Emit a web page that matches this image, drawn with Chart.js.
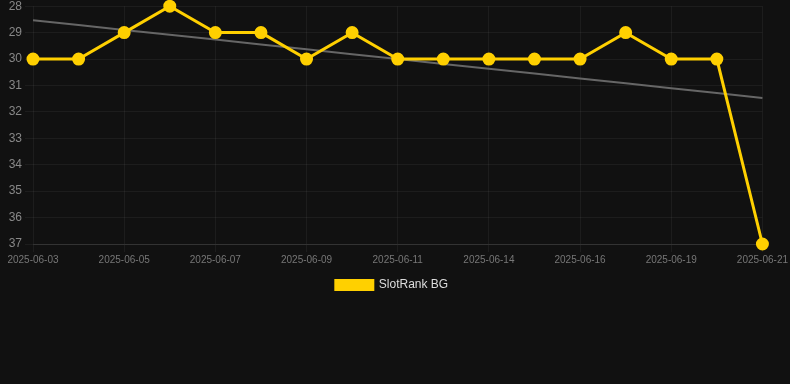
<!DOCTYPE html>
<html>
<head>
<meta charset="utf-8">
<script src="https://cdn.jsdelivr.net/npm/chart.js@4.4.1/dist/chart.umd.min.js"></script>
<style>
  html, body { margin: 0; padding: 0; background: #111111; overflow: hidden; }
  #wrap { width: 790px; height: 384px; position: relative; top: -4px; }
</style>
</head>
<body>
<div id="wrap"><canvas id="rankChart"></canvas></div>
<script>
const dates = ["2025-06-03", "2025-06-04", "2025-06-05", "2025-06-06", "2025-06-07", "2025-06-08",
  "2025-06-09", "2025-06-10", "2025-06-11", "2025-06-12", "2025-06-14", "2025-06-15",
  "2025-06-16", "2025-06-17", "2025-06-19", "2025-06-20", "2025-06-21"];
const ranks = [30, 30, 29, 28, 29, 29, 30, 29, 30, 30, 30, 30, 30, 29, 30, 30, 37];
const yTicks = [28, 29, 30, 31, 32, 33, 34, 35, 36, 37];

// least squares trend of the rank series
const n = ranks.length;
const mx = (n - 1) / 2;
const my = ranks.reduce((a, b) => a + b, 0) / n;
let sxy = 0, sxx = 0;
ranks.forEach((v, i) => { sxy += (i - mx) * (v - my); sxx += (i - mx) * (i - mx); });
const slope = sxy / sxx;
const trend = ranks.map((v, i) => my + slope * (i - mx));

const ctx = document.getElementById("rankChart").getContext("2d");
const chart = new Chart(ctx, {
  type: "line",
  data: {
    labels: dates,
    datasets: [
      {
        label: "SlotRank BG",
        data: ranks,
        borderColor: "#ffd000",
        backgroundColor: "#ffd000",
        borderWidth: 3,
        pointRadius: 5,
        pointBackgroundColor: "#ffd000",
        pointBorderColor: "#ffd000",
        tension: 0,
        clip: false,
        order: 1,
      },
      {
        label: "trend",
        data: trend,
        borderColor: "#666666",
        borderWidth: 2,
        pointRadius: 0,
        fill: false,
        order: 2,
      },
    ],
  },
  options: {
    responsive: true,
    maintainAspectRatio: false,
    animation: false,
    layout: { padding: { left: 0, right: 6, top: 0, bottom: 79 } },
    plugins: {
      legend: {
        position: "bottom",
        labels: {
          color: "#dddddd",
          padding: 11,
          font: { family: "Arial, 'Liberation Sans', sans-serif", size: 12 },
          boxWidth: 37,
          boxHeight: 9,
          filter: (item) => item.text !== "trend",
        },
      },
      tooltip: { enabled: false },
    },
    scales: {
      x: {
        grid: { color: "rgba(255,255,255,0.05)" },
        border: { color: "rgba(255,255,255,0.1)" },
        ticks: {
          color: "#777777",
          padding: 2,
          font: { family: "Arial, 'Liberation Sans', sans-serif", size: 10 },
          maxRotation: 0,
          autoSkip: true,
        },
      },
      y: {
        reverse: true,
        min: 28,
        max: 37,
        afterBuildTicks: (axis) => { axis.ticks = yTicks.map((v) => ({ value: v })); },
        afterFit: (axis) => { axis.width = 33; },
        grid: { color: "rgba(255,255,255,0.05)" },
        border: { display: false },
        ticks: {
          color: "#888888",
          padding: 3,
          font: { family: "Arial, 'Liberation Sans', sans-serif", size: 12 },
        },
      },
    },
  },
});
</script>
</body>
</html>
